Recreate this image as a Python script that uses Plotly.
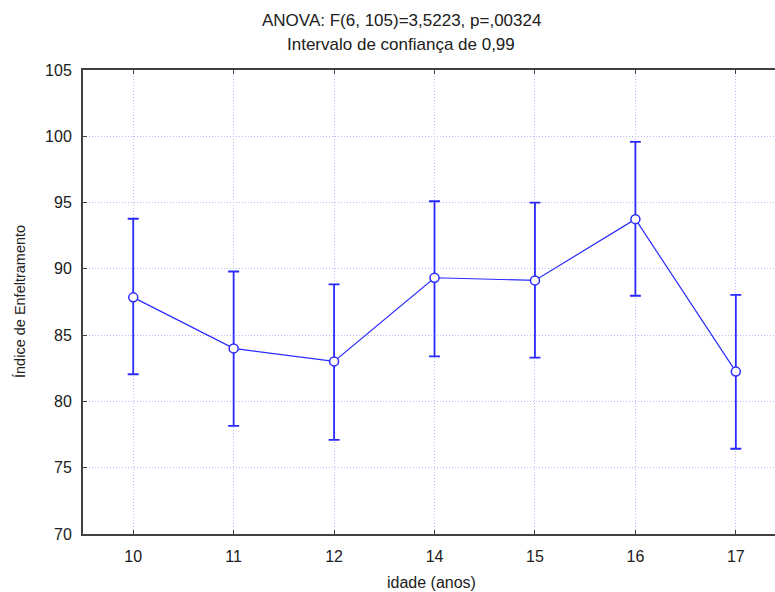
import plotly.graph_objects as go

ages = ["10", "11", "12", "14", "15", "16", "17"]
means = [87.85, 84.0, 83.02, 89.33, 89.13, 93.75, 82.25]
upper = [93.78, 89.8, 88.83, 95.1, 95.0, 99.58, 88.03]
lower = [82.05, 78.15, 77.1, 83.4, 83.3, 87.97, 76.43]
y_ticks = [70, 75, 80, 85, 90, 95, 100, 105]

xpos = list(range(len(ages)))
err_plus = [u - m for u, m in zip(upper, means)]
err_minus = [m - l for m, l in zip(means, lower)]

BLUE = "#2a2aff"
FONT = "Liberation Sans, Arial, sans-serif"
GRID = "#b8b8ff"

fig = go.Figure()
fig.add_trace(go.Scatter(
    x=xpos, y=means,
    mode="lines+markers",
    line=dict(color=BLUE, width=1.2),
    marker=dict(symbol="circle", size=9, color="white",
                line=dict(color=BLUE, width=1.5)),
    error_y=dict(type="data", symmetric=False, array=err_plus,
                 arrayminus=err_minus, color=BLUE, thickness=1.8, width=5.5),
    showlegend=False,
))

L, R, T, B = 83, 0, 70, 58
W, H = 775, 592
pw = W - L - R
ph = H - T - B


def px(xp):
    return (xp - L) / pw


def py(yp):
    return (H - B - yp) / ph


fig.update_layout(
    width=W, height=H,
    margin=dict(l=L, r=R, t=T, b=B),
    paper_bgcolor="white", plot_bgcolor="white",
    font=dict(family=FONT, size=16, color="#202020"),
    xaxis=dict(
        range=[-0.5, 6.39], tickmode="array", tickvals=xpos, ticktext=ages,
        showline=True, linecolor="#404040", linewidth=2, mirror="ticks",
        ticks="inside", ticklen=4, tickcolor="#404040", tickwidth=1,
        showgrid=True, gridcolor=GRID, griddash="1px,2px", gridwidth=1,
        zeroline=False, ticklabelstandoff=7,
    ),
    yaxis=dict(
        range=[70, 105], tickmode="array", tickvals=y_ticks,
        showline=True, linecolor="#404040", linewidth=2,
        ticks="inside", ticklen=4, tickcolor="#404040", tickwidth=1,
        showgrid=True, gridcolor=GRID, griddash="1px,2px", gridwidth=1,
        zeroline=False, ticklabelstandoff=6,
    ),
    annotations=[
        dict(text="ANOVA: F(6, 105)=3,5223, p=,00324", x=px(401), y=py(21),
             xref="paper", yref="paper", showarrow=False, xanchor="center",
             yanchor="middle", font=dict(size=17)),
        dict(text="Intervalo de confiança de 0,99", x=px(401), y=py(45),
             xref="paper", yref="paper", showarrow=False, xanchor="center",
             yanchor="middle", font=dict(size=17)),
        dict(text="idade (anos)", x=px(431), y=py(582),
             xref="paper", yref="paper", showarrow=False, xanchor="center",
             yanchor="middle"),
        dict(text="Índice de Enfeltramento", x=px(20), y=py(302), textangle=-90,
             xref="paper", yref="paper", showarrow=False, xanchor="center",
             yanchor="middle", font=dict(size=14.5)),
    ],
)

fig.write_html("out.html")
